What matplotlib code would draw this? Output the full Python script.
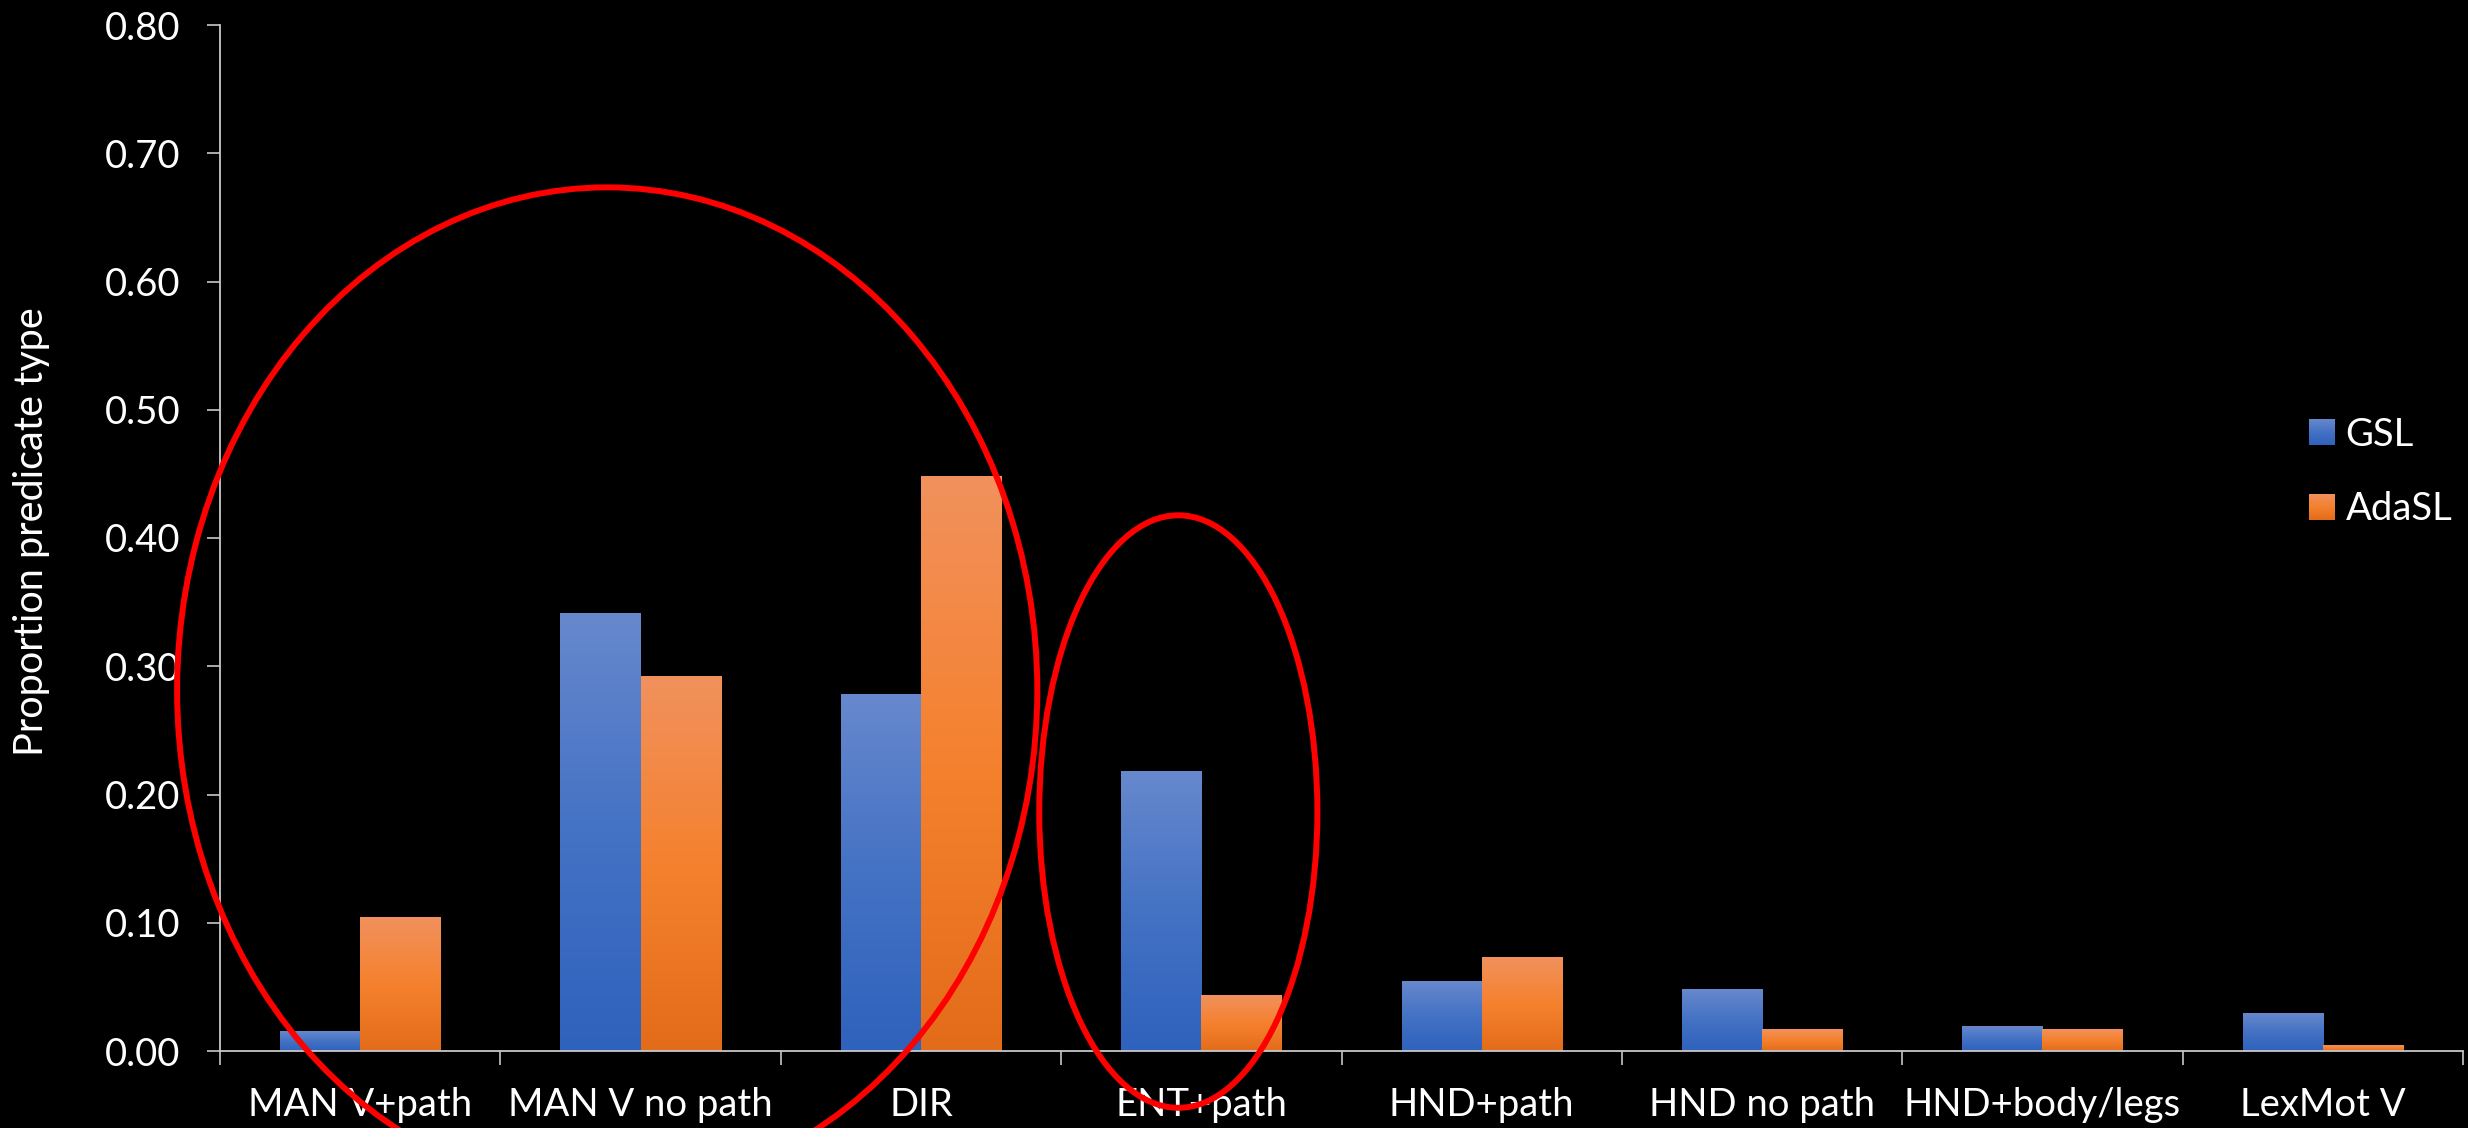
import numpy as np
import matplotlib
matplotlib.use("Agg")
import matplotlib.pyplot as plt
from matplotlib.colors import LinearSegmentedColormap
from matplotlib.patches import Ellipse, Patch
from matplotlib.legend_handler import HandlerBase
from matplotlib.image import BboxImage
from matplotlib.transforms import Bbox, TransformedBbox

plt.rcParams["font.family"] = ["Lato", "DejaVu Sans"]

# ---- data -------------------------------------------------------------
categories = ["MAN V+path", "MAN V no path", "DIR", "ENT+path",
              "HND+path", "HND no path", "HND+body/legs", "LexMot V"]
gsl = [0.015, 0.341, 0.278, 0.218, 0.054, 0.048, 0.019, 0.029]
adasl = [0.104, 0.292, 0.448, 0.043, 0.073, 0.017, 0.017, 0.004]
series_names = ["GSL", "AdaSL"]
y_ticks = [0.0, 0.1, 0.2, 0.3, 0.4, 0.5, 0.6, 0.7, 0.8]
y_label = "Proportion predicate type"

# ---- styling ----------------------------------------------------------
FONT = 27.5
AXIS_COLOR = "#C8C8C8"
blue_cmap = LinearSegmentedColormap.from_list(
    "blue_grad", ["#2F62BD", "#4472C4", "#6788CD"])
orange_cmap = LinearSegmentedColormap.from_list(
    "orange_grad", ["#E36C1A", "#F5812E", "#F1915D"])
grad = np.linspace(0, 1, 256).reshape(-1, 1)

fig = plt.figure(figsize=(24.68, 11.28), dpi=100, facecolor="black")
ax = fig.add_axes([220 / 2468, 1 - 1051 / 1128,
                   (2463 - 220) / 2468, (1051 - 25) / 1128])
ax.set_facecolor("black")

n = len(categories)
centers = np.arange(n) + 0.5
bar_w = 1 / 3.5  # gap width 150 %

def gradient_bars(xpos, values, cmap):
    rects = ax.bar(xpos, values, width=bar_w, color="none",
                   edgecolor="none", zorder=2)
    for r in rects:
        x0 = r.get_x()
        ax.imshow(grad, extent=(x0, x0 + r.get_width(), 0, r.get_height()),
                  origin="lower", cmap=cmap, aspect="auto",
                  interpolation="bicubic", zorder=2)
    return rects

gradient_bars(centers - bar_w / 2, gsl, blue_cmap)
gradient_bars(centers + bar_w / 2, adasl, orange_cmap)

ax.set_xlim(0, n)
ax.set_ylim(0, 0.8)

# axes / spines
for side in ["top", "right"]:
    ax.spines[side].set_visible(False)
for side in ["left", "bottom"]:
    ax.spines[side].set_color(AXIS_COLOR)
    ax.spines[side].set_linewidth(1.3)

ax.set_yticks(y_ticks)
ax.set_yticklabels([f"{v:.2f}" for v in y_ticks])
ax.tick_params(axis="y", direction="out", length=9.5, width=1.2,
               color=AXIS_COLOR, labelcolor="white", labelsize=FONT, pad=19)

ax.set_xticks(np.arange(n + 1))
ax.set_xticklabels([])
ax.tick_params(axis="x", which="major", direction="out", length=10,
               width=1.2, color=AXIS_COLOR)
ax.set_xticks(centers, minor=True)
ax.set_xticklabels(categories, minor=True)
ax.tick_params(axis="x", which="minor", length=0, labelcolor="white",
               labelsize=FONT, pad=26)

fig.text(43 / 2468, 1 - 532 / 1128, y_label, rotation=90,
         rotation_mode="anchor", ha="center", va="baseline",
         color="white", fontsize=28.5)


# legend with gradient swatches
class GradientSwatch(HandlerBase):
    def __init__(self, cmap):
        super().__init__()
        self.cmap = cmap

    def create_artists(self, legend, orig_handle, xdescent, ydescent,
                       width, height, fontsize, trans):
        bb = TransformedBbox(Bbox.from_bounds(-xdescent, -ydescent,
                                              width, height), trans)
        img = BboxImage(bb, cmap=self.cmap, interpolation="bicubic",
                        origin="lower")
        img.set_data(grad)
        return [img]


h_gsl = Patch(facecolor="#4472C4")
h_ada = Patch(facecolor="#F5812E")
leg = fig.legend([h_gsl, h_ada], series_names,
                 handler_map={h_gsl: GradientSwatch(blue_cmap),
                              h_ada: GradientSwatch(orange_cmap)},
                 loc="center left",
                 bbox_to_anchor=(2309 / 2468, 1 - 472 / 1128),
                 frameon=False, fontsize=FONT, labelcolor="white",
                 handlelength=0.66, handleheight=0.66, handletextpad=0.3,
                 labelspacing=1.0, borderpad=0, borderaxespad=0)

# red ellipses grouping the path-encoding categories
for (cx, cy, w, h) in [(1.381, 0.2814, 3.068, 0.784),
                       (3.418, 0.1867, 0.992, 0.462)]:
    ax.add_patch(Ellipse((cx, cy), w, h, fill=False, edgecolor="#FF0000",
                         linewidth=4.3, clip_on=False, zorder=5))

fig.savefig("out.png", dpi=100, facecolor="black")
